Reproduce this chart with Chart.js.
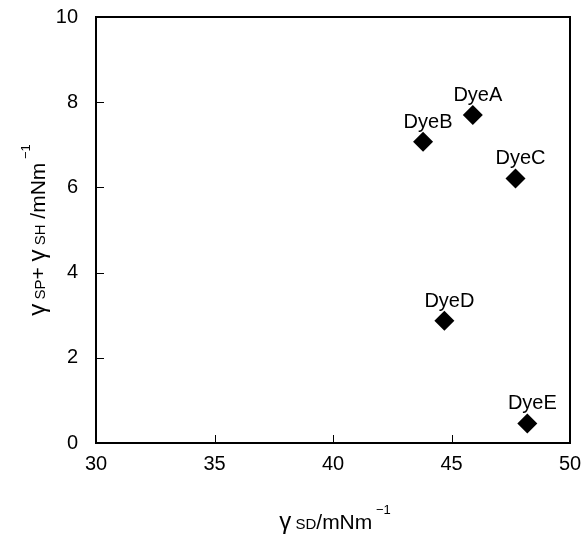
<!DOCTYPE html>
<html lang="en">
<head>
    <meta charset="UTF-8">
    <title>Dye surface energy</title>
    <script src="https://cdn.jsdelivr.net/npm/chart.js@4.4.0/dist/chart.umd.min.js"></script>
    <style>
        html, body { margin: 0; padding: 0; background: #fff; }
        #wrap { width: 585px; height: 539px; }
    </style>
</head>
<body>
<div id="wrap"><canvas id="dyeChart" width="585" height="539"></canvas></div>
<script>
    // data
    var dyeNames = ['DyeA', 'DyeB', 'DyeC', 'DyeD', 'DyeE'];
    var gammaSD = [45.9, 43.8, 47.7, 44.7, 48.2];
    var gammaSPSH = [7.70, 7.07, 6.21, 2.87, 0.46];
    var xTicks = [30, 35, 40, 45, 50];
    var yTicks = [0, 2, 4, 6, 8, 10];

    var FONT = '"Liberation Sans", Arial, sans-serif';

    var points = dyeNames.map(function (n, i) {
        return {x: gammaSD[i], y: gammaSPSH[i]};
    });

    // draws a run of text pieces with different sizes / offsets, centred on cx
    function drawRich(ctx, parts, cx, baseY) {
        var total = 0;
        parts.forEach(function (p) {
            ctx.font = p.size + 'px ' + FONT;
            p.w = ctx.measureText(p.t).width;
            total += p.w;
        });
        var x = cx - total / 2;
        ctx.textAlign = 'left';
        ctx.textBaseline = 'alphabetic';
        parts.forEach(function (p) {
            ctx.font = p.size + 'px ' + FONT;
            ctx.fillText(p.t, x, baseY + (p.dy || 0));
            x += p.w;
        });
    }

    var framePlugin = {
        id: 'frame',
        afterDraw: function (chart) {
            var ctx = chart.ctx;
            var a = chart.chartArea;
            var xs = chart.scales.x, ys = chart.scales.y;
            ctx.save();
            ctx.strokeStyle = '#000';
            // inward tick marks
            ctx.lineWidth = 1;
            ctx.beginPath();
            xTicks.forEach(function (v) {
                var px = Math.round(xs.getPixelForValue(v)) + 0.5;
                ctx.moveTo(px, a.bottom);
                ctx.lineTo(px, a.bottom - 8);
            });
            yTicks.forEach(function (v) {
                var py = Math.round(ys.getPixelForValue(v)) + 0.5;
                ctx.moveTo(a.left, py);
                ctx.lineTo(a.left + 8, py);
            });
            ctx.stroke();
            // box
            ctx.lineWidth = 2;
            ctx.strokeRect(a.left, a.top, a.right - a.left, a.bottom - a.top);

            // point labels
            ctx.fillStyle = '#000';
            ctx.font = '20px ' + FONT;
            ctx.textAlign = 'center';
            ctx.textBaseline = 'alphabetic';
            chart.getDatasetMeta(0).data.forEach(function (el, i) {
                ctx.fillText(dyeNames[i], el.x + 5, el.y - 14);
            });

            // axis titles
            drawRich(ctx, [
                {t: 'γ', size: 24},
                {t: ' SD', size: 15},
                {t: '/mNm', size: 21},
                {t: ' −1', size: 13, dy: -15}
            ], (a.left + a.right) / 2 + 2, 529);

            ctx.translate(45, (a.top + a.bottom) / 2);
            ctx.rotate(-Math.PI / 2);
            drawRich(ctx, [
                {t: 'γ', size: 24},
                {t: ' SP', size: 15},
                {t: '+ ', size: 21},
                {t: 'γ', size: 24},
                {t: ' SH', size: 15},
                {t: ' /mNm', size: 21},
                {t: ' −1', size: 13, dy: -15}
            ], 0, 0);
            ctx.restore();
        }
    };

    var config = {
        type: 'scatter',
        data: {
            datasets: [{
                label: 'dyes',
                data: points,
                pointStyle: 'rectRot',
                pointRadius: 10,
                pointHoverRadius: 10,
                backgroundColor: '#000',
                borderColor: '#000',
                borderWidth: 0
            }]
        },
        options: {
            responsive: false,
            animation: false,
            layout: {padding: {top: 17, right: 15, left: 0, bottom: 0}},
            plugins: {
                legend: {display: false},
                tooltip: {enabled: false}
            },
            scales: {
                x: {
                    type: 'linear',
                    min: 30, max: 50,
                    afterBuildTicks: function (s) { s.ticks = xTicks.map(function (v) { return {value: v}; }); },
                    afterFit: function (s) {
                        s.height = 96;
                        s.paddingLeft = 0; s.paddingRight = 0;
                    },
                    grid: {display: false, drawTicks: false},
                    border: {display: false},
                    ticks: {color: '#000', font: {size: 20, family: FONT}, padding: 9, maxRotation: 0}
                },
                y: {
                    type: 'linear',
                    min: 0, max: 10,
                    afterBuildTicks: function (s) { s.ticks = yTicks.map(function (v) { return {value: v}; }); },
                    afterFit: function (s) {
                        s.width = 96;
                        s.paddingTop = 0; s.paddingBottom = 0;
                    },
                    grid: {display: false, drawTicks: false},
                    border: {display: false},
                    ticks: {color: '#000', font: {size: 20, family: FONT}, padding: 18}
                }
            }
        },
        plugins: [framePlugin]
    };

    window.onload = function () {
        var ctx = document.getElementById('dyeChart').getContext('2d');
        window.dyeChart = new Chart(ctx, config);
    };
</script>
</body>
</html>
